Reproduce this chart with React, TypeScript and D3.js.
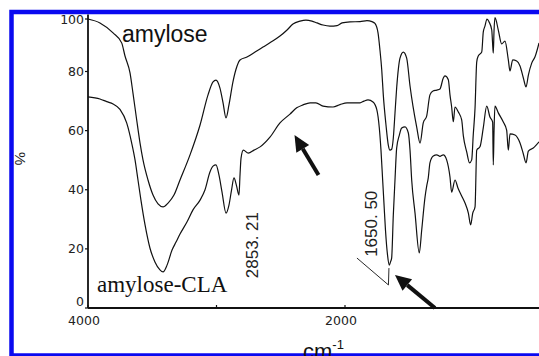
import * as d3 from "d3";

// wavenumber (cm-1) and %T
const amyloseWn = [4000,3907,3805,3738,3712,3673,3650,3621,3595,3572,3533,3494,3455,3416,3377,3331,3284,3206,3128,3066,3027,3004,2973,2949,2926,2903,2872,2840,2817,2763,2700,2638,2576,2506,2451,2405,2350,2304,2257,2218,2171,2117,2062,2023,1961,1883,1829,1790,1767,1743,1728,1714,1702,1681,1663,1650,1637,1624,1611,1598,1584,1572,1546,1520,1494,1471,1442,1416,1391,1364,1339,1315,1286,1261,1235,1222,1196,1183,1170,1157,1144,1118,1092,1079,1053,1031,1014,1002,988,975,963,936,924,911,895,879,858,852,846,840,833,807,781,755,729,716,695,664,638,612,591,573,547,522,490];
const amyloseT = [100,98.5,94.7,90.9,85.9,79.5,72.7,63.6,55.8,50.1,43.3,38.2,35.2,34.2,35.5,38.2,43.3,51.8,61.9,72.1,76.5,77.1,74.4,69.4,64.3,68.7,76.5,82.1,84.4,85.5,87.4,89.3,91.2,93.5,95.8,98.1,99.2,99.6,99.2,98.5,97.7,97.3,97.5,98.5,98.9,99.0,99.4,99.0,98.3,94.7,88.2,80.6,72.1,61.9,55.1,53.4,53.7,57.5,65.9,74.4,81.3,85.1,87.4,85.1,75.1,68.3,61.2,55.8,62.6,65.0,72.1,73.4,73.7,74.1,77.8,78.5,77.2,72.1,68.0,63.0,68.0,66.3,63.6,58.2,52.8,49.1,50.1,58.5,67.7,83.6,85.9,87.4,95.0,97.3,100,98.9,95.8,91.2,87.0,95.8,100.5,95.8,90.5,91.6,84.4,80.2,84.4,84.0,82.1,77.8,74.8,78.8,83.2,85.5,90.9];

const claWn = [4000,3907,3854,3805,3751,3699,3660,3634,3611,3588,3556,3518,3479,3440,3416,3385,3346,3315,3284,3230,3183,3128,3090,3051,3027,3004,2981,2957,2926,2903,2883,2864,2844,2825,2817,2809,2791,2753,2708,2661,2584,2506,2428,2376,2327,2272,2226,2171,2093,2039,1984,1883,1852,1821,1782,1753,1733,1720,1707,1696,1685,1669,1655,1646,1637,1624,1611,1598,1577,1559,1533,1507,1494,1481,1455,1422,1403,1377,1364,1352,1339,1313,1286,1261,1235,1209,1183,1170,1144,1121,1092,1066,1040,1022,1006,988,975,949,924,897,872,851,846,840,833,807,768,742,729,716,677,638,612,591,573,535,490];
const claT = [71.4,70.7,69.8,69.0,67.2,62.6,55.8,50.1,43.3,36.5,28.1,20.3,15.6,12.9,12.2,14.5,19.6,22.3,25.0,29.1,33.2,36.5,39.9,46.0,48.0,48.4,45.0,39.2,32.1,34.8,39.9,44.0,41.3,38.2,45.0,50.7,53.4,52.4,53.4,54.5,57.8,62.6,65.6,67.7,68.7,69.4,69.4,68.3,68.0,68.8,69.4,69.4,70.0,70.4,69.7,67.2,60.9,53.4,43.3,34.8,26.4,17.9,14.5,15.6,16.9,31.5,43.3,54.1,58.5,60.9,61.3,59.2,53.4,43.3,32.1,18.6,26.4,37.6,41.3,44.0,49.1,51.4,51.8,51.3,51.8,50.1,44.3,39.2,43.3,40.6,37.9,35.5,32.1,28.1,32.1,34.2,53.4,54.6,60.9,68.3,64.6,62.9,48.4,60.2,68.3,66.0,62.9,60.2,53.4,58.9,58.5,55.8,52.1,49.1,53.1,54.1,56.2];

const yTicks = [0, 20, 40, 60, 80, 100];
const xTickLabels = [4000, 2000];
const xMinorTicks = [3000];

const W = 539;
const H = 356;

export default function App() {
  const x = d3.scaleLinear().domain([4000, 400]).range([88, 550.6]);
  // the scan is slightly compressed near the top
  const y = d3.scaleLinear().domain([0, 80, 100]).range([308, 71.5, 19]);

  const line = d3
    .line<[number, number]>()
    .x((d) => x(d[0]))
    .y((d) => y(d[1]))
    .curve(d3.curveMonotoneX);

  const amylose = amyloseWn.map((w, i) => [w, amyloseT[i]] as [number, number]);
  const cla = claWn.map((w, i) => [w, claT[i]] as [number, number]);

  const arrow = (x1: number, y1: number, x2: number, y2: number) => {
    // tail (x1,y1) -> tip (x2,y2)
    const ang = Math.atan2(y2 - y1, x2 - x1);
    const len = 16, half = 7.5;
    const bx = x2 - len * Math.cos(ang), by = y2 - len * Math.sin(ang);
    const px = -Math.sin(ang) * half, py = Math.cos(ang) * half;
    return (
      <g>
        <line x1={x1} y1={y1} x2={bx} y2={by} stroke="#111" strokeWidth={4} />
        <polygon points={`${x2},${y2} ${bx + px},${by + py} ${bx - px},${by - py}`} fill="#111" />
      </g>
    );
  };

  const tickFont = { fontFamily: "DejaVu Sans, Verdana, sans-serif", fontSize: 12.5, fill: "#222" };

  return (
    <div style={{ position: "absolute", left: 0, top: 0 }}>
      <svg width={W} height={H} style={{ display: "block", background: "#fff" }}>
        {/* blue frame */}
        <rect x={11.5} y={12} width={620} height={343.5} fill="none" stroke="#0a0af0" strokeWidth={4.5} />

        {/* axes */}
        <line x1={88} y1={14.5} x2={88} y2={308} stroke="#111" strokeWidth={1.8} />
        <line x1={88} y1={308} x2={W} y2={308} stroke="#111" strokeWidth={1.8} />

        {yTicks.map((t) => (
          <g key={t}>
            <line x1={85} x2={88} y1={y(t)} y2={y(t)} stroke="#111" strokeWidth={1.2} />
            <text x={84} y={y(t) + (t === 0 ? -2 : 4.6)} textAnchor="end" {...tickFont}>{t}</text>
          </g>
        ))}
        {xTickLabels.map((t) => (
          <g key={t}>
            <line x1={x(t)} x2={x(t)} y1={308} y2={305} stroke="#111" strokeWidth={1.2} />
            <text x={x(t) - 4} y={325} textAnchor="middle" {...tickFont}>{t}</text>
          </g>
        ))}
        {xMinorTicks.map((t) => (
          <line key={t} x1={x(t)} x2={x(t)} y1={308} y2={305} stroke="#111" strokeWidth={1.2} />
        ))}

        {/* axis titles */}
        <text transform="translate(15,152) rotate(90)" fontFamily="Liberation Sans, Arial, sans-serif" fontSize={15} fill="#222">%</text>
        <text x={303} y={359} fontFamily="Liberation Sans, Arial, sans-serif" fontSize={22} fill="#111">
          cm<tspan dy={-10} fontSize={13}>-1</tspan>
        </text>

        {/* spectra */}
        <path d={line(amylose) ?? ""} fill="none" stroke="#111" strokeWidth={1.2} />
        <path d={line(cla) ?? ""} fill="none" stroke="#111" strokeWidth={1.2} />

        {/* series labels */}
        <text x={122} y={42} fontFamily="Liberation Sans, Arial, sans-serif" fontSize={23} fill="#111">amylose</text>
        <text x={97} y={292} fontFamily="Liberation Serif, Times New Roman, serif" fontSize={23} fill="#111">amylose-CLA</text>

        {/* peak annotations */}
        <text transform={`translate(${x(2731) + 7},${y(10.1)}) rotate(-90)`} fontFamily="Liberation Sans, Arial, sans-serif" fontSize={17} fill="#222">2853. 21</text>
        <text transform={`translate(${x(1798) + 6},${y(17.3)}) rotate(-90)`} fontFamily="Liberation Sans, Arial, sans-serif" fontSize={17} fill="#222">1650. 50</text>
        <polyline
          points={[[1907, 16.9], [1662, 7.8], [1658, 13.5]].map((p) => `${x(p[0])},${y(p[1])}`).join(" ")}
          fill="none"
          stroke="#111"
          strokeWidth={0.9}
        />

        {/* arrows */}
        {arrow(x(2206), y(45.0), x(2393), y(58.5))}
        {arrow(x(1300), y(0), x(1611), y(11.2))}
      </svg>
    </div>
  );
}
